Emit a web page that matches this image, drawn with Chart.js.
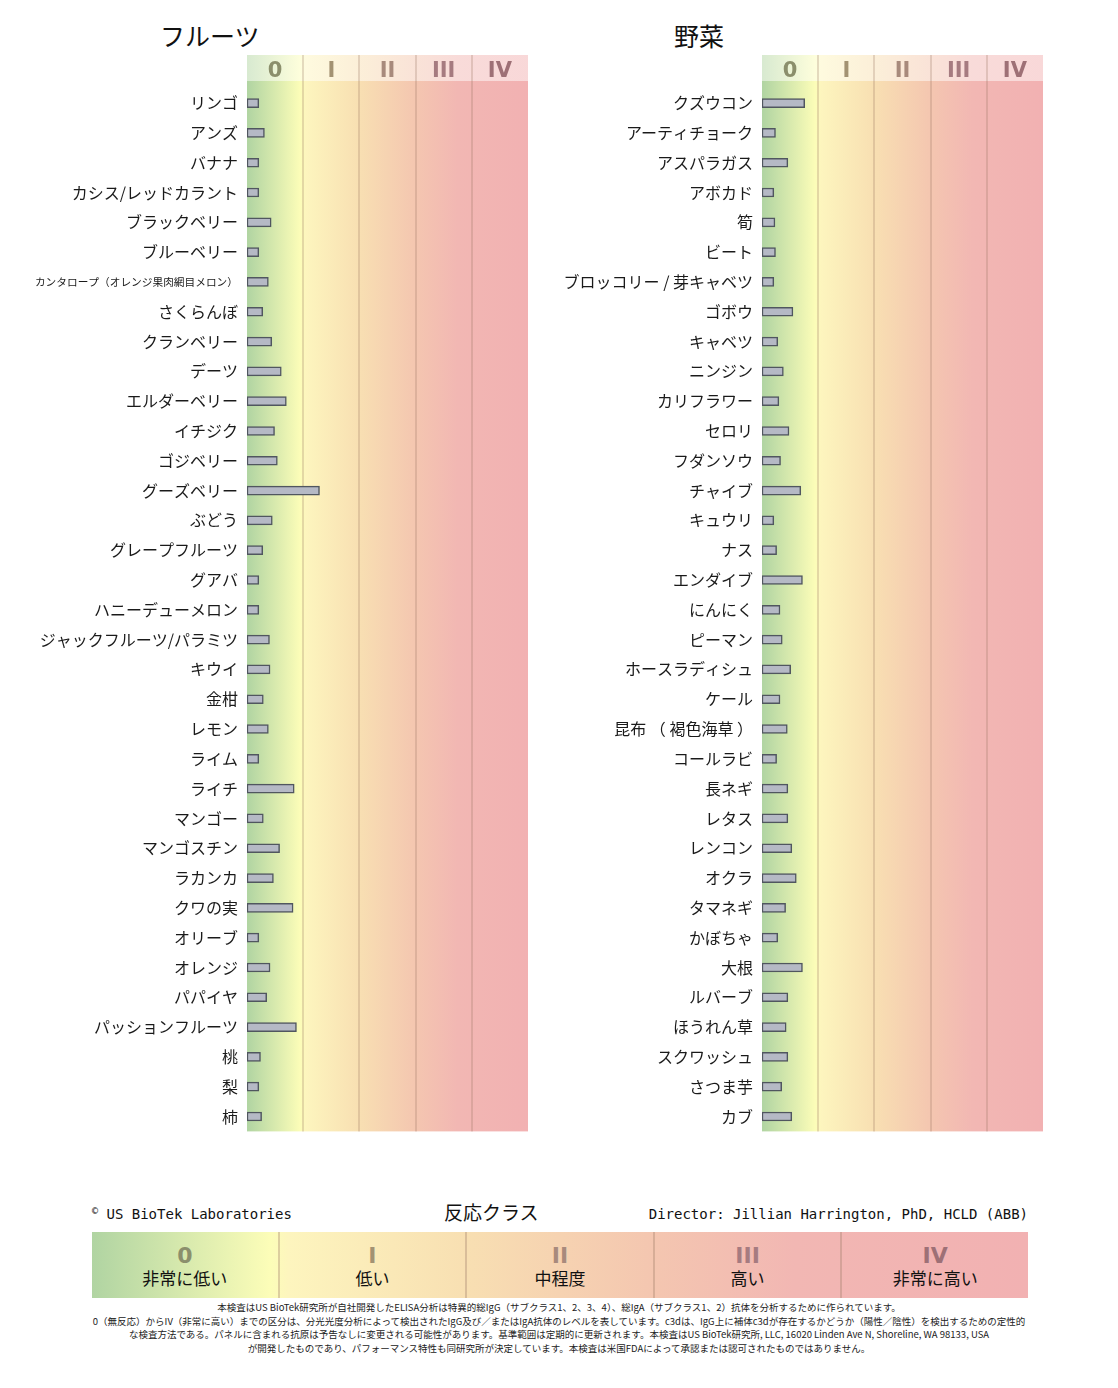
<!DOCTYPE html>
<html>
<head>
<meta charset="utf-8">
<script src="https://cdn.jsdelivr.net/npm/chart.js@4"></script>
<style>
  body { margin: 0; background: #fff; }
  #wrap { position: relative; width: 1118px; height: 1388px; font-family: "Noto Sans CJK JP", sans-serif; color: #111; }
  .ttl { position: absolute; top: 20px; font-size: 25px; line-height: 30px; }
  canvas { position: absolute; top: 0; }
  .hdr { position: absolute; top: 1203px; font-size: 14px; line-height: 22px; }
  .mono { font-family: "DejaVu Sans Mono", monospace; }
  .copy { font-size: 10px; position: relative; top: -5px; }
  #scale { position: absolute; left: 92px; top: 1232px; width: 936px; height: 66px; display: flex; }
  #scale div { flex: 1; text-align: center; border-right: 2px solid rgba(160,125,105,0.35); }
  #scale div:last-child { border-right: none; }
  #scale b { display: block; font-family: "DejaVu Sans", sans-serif; font-size: 22px; line-height: 22px; margin-top: 13px; }
  #scale span { display: block; font-size: 17px; line-height: 22px; color: #111; }
  #note { position: absolute; left: 0; width: 1118px; top: 1301px; text-align: center; font-size: 9.5px; line-height: 13.7px; color: #222; }
</style>
</head>
<body>
<div id="wrap">
  <div class="ttl" style="left:160px">フルーツ</div>
  <div class="ttl" style="left:674px">野菜</div>
  <canvas id="fruit" width="535" height="1150" style="left:0"></canvas>
  <canvas id="veg" width="535" height="1150" style="left:515px"></canvas>

  <div class="hdr mono" style="left:92px"><span class="copy">©</span> US BioTek Laboratories</div>
  <div class="hdr" style="left:444px;font-size:19px;top:1201px">反応クラス</div>
  <div class="hdr mono" style="right:90px">Director: Jillian Harrington, PhD, HCLD (ABB)</div>
  <div id="scale"></div>
  <div id="note">
    本検査はUS BioTek研究所が自社開発したELISA分析は特異的総IgG（サブクラス1、2、3、4）、総IgA（サブクラス1、2）抗体を分析するために作られています。<br>
    0（無反応）からIV（非常に高い）までの区分は、分光光度分析によって検出されたIgG及び／またはIgA抗体のレベルを表しています。c3dは、IgG上に補体c3dが存在するかどうか（陽性／陰性）を検出するための定性的<br>
    な検査方法である。パネルに含まれる抗原は予告なしに変更される可能性があります。基準範囲は定期的に更新されます。本検査はUS BioTek研究所, LLC, 16020 Linden Ave N, Shoreline, WA 98133, USA<br>
    が開発したものであり、パフォーマンス特性も同研究所が決定しています。本検査は米国FDAによって承認または認可されたものではありません。
  </div>
</div>

<script>
/* ---- data ---- */
var classLabels = ["0", "I", "II", "III", "IV"];
var classNames = ["非常に低い", "低い", "中程度", "高い", "非常に高い"];

var fruitLabels = ["リンゴ", "アンズ", "バナナ", "カシス/レッドカラント", "ブラックベリー", "ブルーベリー",
  "カンタロープ（オレンジ果肉網目メロン）", "さくらんぼ", "クランベリー", "デーツ", "エルダーベリー", "イチジク",
  "ゴジベリー", "グーズベリー", "ぶどう", "グレープフルーツ", "グアバ", "ハニーデューメロン",
  "ジャックフルーツ/パラミツ", "キウイ", "金柑", "レモン", "ライム", "ライチ", "マンゴー", "マンゴスチン",
  "ラカンカ", "クワの実", "オリーブ", "オレンジ", "パパイヤ", "パッションフルーツ", "桃", "梨", "柿"];
var fruitValues = [0.21, 0.31, 0.21, 0.21, 0.43, 0.21, 0.38, 0.28, 0.44, 0.61, 0.70, 0.49,
  0.54, 1.29, 0.45, 0.28, 0.21, 0.21, 0.40, 0.41, 0.29, 0.38, 0.21, 0.84, 0.29, 0.58,
  0.47, 0.82, 0.21, 0.41, 0.35, 0.88, 0.24, 0.21, 0.26];

var vegLabels = ["クズウコン", "アーティチョーク", "アスパラガス", "アボカド", "筍", "ビート",
  "ブロッコリー / 芽キャベツ", "ゴボウ", "キャベツ", "ニンジン", "カリフラワー", "セロリ", "フダンソウ",
  "チャイブ", "キュウリ", "ナス", "エンダイブ", "にんにく", "ピーマン", "ホースラディシュ", "ケール",
  "昆布 （ 褐色海草 ）", "コールラビ", "長ネギ", "レタス", "レンコン", "オクラ", "タマネギ", "かぼちゃ",
  "大根", "ルバーブ", "ほうれん草", "スクワッシュ", "さつま芋", "カブ"];
var vegValues = [0.76, 0.24, 0.46, 0.21, 0.23, 0.24, 0.21, 0.55, 0.28, 0.38, 0.30, 0.48, 0.33,
  0.69, 0.21, 0.26, 0.72, 0.32, 0.36, 0.51, 0.32, 0.45, 0.26, 0.46, 0.46, 0.53, 0.61, 0.42, 0.28,
  0.72, 0.46, 0.43, 0.46, 0.35, 0.53];

/* ---- styles ---- */
var bandStops = [[0, "#b0d4a2"], [0.19, "#fcfdb8"], [0.21, "#fdf5be"], [0.4, "#f8dfb2"],
  [0.6, "#f4c6b0"], [0.75, "#f2b7b3"], [1, "#f2b1b2"]];
var classColors = ["#8b8f6c", "#a39272", "#a88a7c", "#a67b80", "#9e7076"];

function bandGradient(ctx, x0, x1) {
  var g = ctx.createLinearGradient(x0, 0, x1, 0);
  bandStops.forEach(function (s) { g.addColorStop(s[0], s[1]); });
  return g;
}

/* background bands + dividers */
var bandPlugin = {
  id: "bands",
  beforeDraw: function (chart) {
    var ctx = chart.ctx, a = chart.chartArea, xs = chart.scales.x;
    var x0 = xs.getPixelForValue(0), x1 = xs.getPixelForValue(5);
    var hb = xs.top + 26;
    ctx.save();
    ctx.fillStyle = "#fff";
    ctx.fillRect(x0, xs.top, x1 - x0, a.bottom - xs.top);
    ctx.fillStyle = bandGradient(ctx, x0, x1);
    ctx.fillRect(x0, hb, x1 - x0, a.bottom - hb);
    ctx.globalAlpha = 0.5;
    ctx.fillRect(x0, xs.top, x1 - x0, hb - xs.top);
    ctx.globalAlpha = 1;
    ctx.strokeStyle = "rgba(150,115,95,0.25)";
    ctx.lineWidth = 2;
    for (var i = 1; i < classLabels.length; i++) {
      var x = Math.round(xs.getPixelForValue(i));
      ctx.beginPath();
      ctx.moveTo(x, xs.top);
      ctx.lineTo(x, a.bottom);
      ctx.stroke();
    }
    ctx.restore();
  }
};

function makeChart(id, labels, values) {
  return new Chart(document.getElementById(id).getContext("2d"), {
    type: "bar",
    data: {
      labels: labels,
      datasets: [{
        data: values,
        backgroundColor: "#b5b9c5",
        borderColor: "#50565f",
        borderWidth: 1.5,
        borderSkipped: false,
        barThickness: 9
      }]
    },
    options: {
      indexAxis: "y",
      responsive: false,
      animation: false,
      layout: { padding: { top: 55, right: 7, bottom: 2, left: 0 } },
      scales: {
        x: {
          type: "linear",
          position: "top",
          min: 0,
          max: 5,
          grid: { display: false, drawTicks: false },
          border: { display: false },
          afterBuildTicks: function (s) {
            s.ticks = classLabels.map(function (l, i) { return { value: i + 0.5 }; });
          },
          ticks: {
            autoSkip: false,
            padding: 4,
            font: { family: "DejaVu Sans", size: 21, weight: "bold" },
            color: function (c) { return classColors[c.index]; },
            callback: function (v) { return classLabels[Math.floor(v)]; }
          }
        },
        y: {
          grid: { display: false, drawTicks: false },
          border: { display: false },
          afterFit: function (s) { s.width = 247; },
          ticks: {
            autoSkip: false,
            padding: 9,
            color: "#1a1a1a",
            font: function (c) {
              var l = labels[c.index] || "";
              return { family: "Noto Sans CJK JP", size: l.length > 16 ? 10.7 : 16 };
            }
          }
        }
      },
      plugins: { legend: { display: false }, tooltip: { enabled: false } }
    },
    plugins: [bandPlugin]
  });
}

makeChart("fruit", fruitLabels, fruitValues);
makeChart("veg", vegLabels, vegValues);

/* class legend strip */
var scaleBox = document.getElementById("scale");
scaleBox.style.background = "linear-gradient(to right," +
  bandStops.map(function (s) { return s[1] + " " + (s[0] * 100) + "%"; }).join(",") + ")";
classLabels.forEach(function (l, i) {
  var d = document.createElement("div");
  d.innerHTML = "<b style='color:" + classColors[i] + "'>" + l + "</b><span>" + classNames[i] + "</span>";
  scaleBox.appendChild(d);
});
</script>
</body>
</html>
